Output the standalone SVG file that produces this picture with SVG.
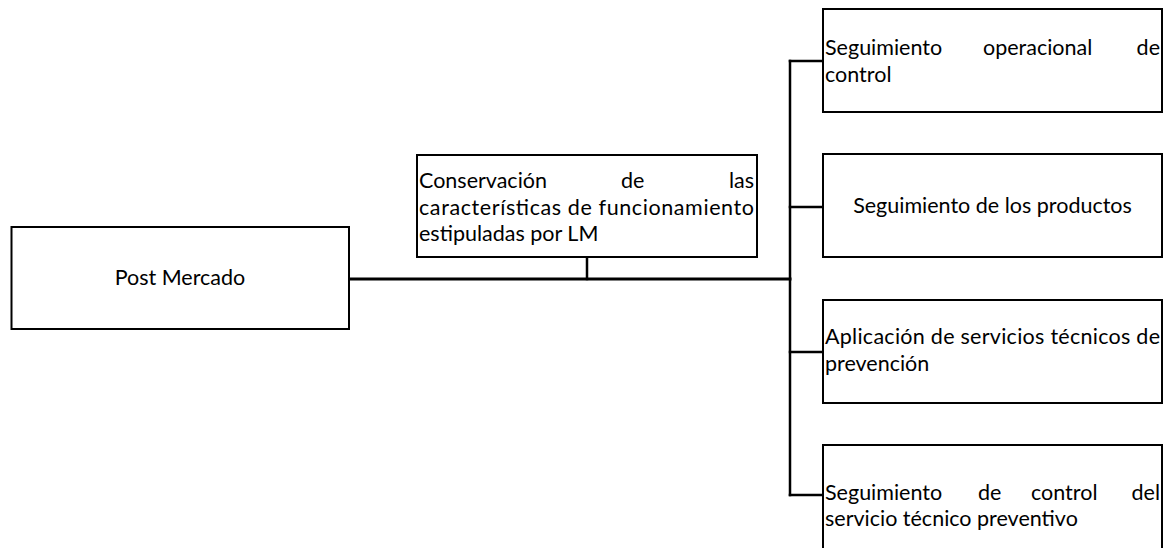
<svg xmlns="http://www.w3.org/2000/svg" width="1175" height="548" viewBox="0 0 1175 548">
  <style>
    .box { fill: #ffffff; stroke: #000000; stroke-width: 2; }
    .link { fill: none; stroke: #000000; stroke-width: 2.5; stroke-linecap: square; }
    .main { stroke-width: 3; }
    text { font-family: "Lato", "Open Sans", "Liberation Sans", sans-serif; font-size: 21.5px; fill: #000000; }
    .c { text-anchor: middle; }
    .e { text-anchor: end; }
  </style>
  <rect x="0" y="0" width="1175" height="548" fill="#ffffff"/>

  <!-- connectors -->
  <g id="connectors">
    <path class="link main" d="M349 279 H790"/>
    <path class="link" d="M587 257 V279"/>
    <path class="link" d="M790 61 V495"/>
    <path class="link" d="M790 61 H823"/>
    <path class="link" d="M790 207 H823"/>
    <path class="link" d="M790 352 H823"/>
    <path class="link" d="M790 495 H823"/>
  </g>

  <!-- root -->
  <g id="post-mercado">
    <rect class="box" x="11.5" y="227" width="337.5" height="102"/>
    <text class="c" x="180" y="285">Post Mercado</text>
  </g>

  <g id="conservacion">
    <rect class="box" x="417" y="155" width="340" height="102"/>
    <text x="419" y="188">Conservación</text>
    <text x="621" y="188">de</text>
    <text class="e" x="754" y="188">las</text>
    <text x="419" y="215" textLength="335" lengthAdjust="spacing">características de funcionamiento</text>
    <text x="419" y="241">estipuladas por LM</text>
  </g>

  <g id="seguimiento-operacional">
    <rect class="box" x="823" y="9" width="339" height="103"/>
    <text x="825" y="55">Seguimiento</text>
    <text x="983" y="55">operacional</text>
    <text class="e" x="1160" y="55">de</text>
    <text x="825" y="82">control</text>
  </g>

  <g id="seguimiento-productos">
    <rect class="box" x="823" y="154" width="339" height="103"/>
    <text class="c" x="992.5" y="213">Seguimiento de los productos</text>
  </g>

  <g id="aplicacion-servicios">
    <rect class="box" x="823" y="300" width="339" height="103"/>
    <text x="825" y="344" textLength="335" lengthAdjust="spacing">Aplicación de servicios técnicos de</text>
    <text x="825" y="371">prevención</text>
  </g>

  <g id="seguimiento-control">
    <rect class="box" x="823" y="445" width="339" height="110"/>
    <text x="825" y="500">Seguimiento</text>
    <text x="978" y="500">de</text>
    <text x="1031" y="500">control</text>
    <text class="e" x="1160" y="500">del</text>
    <text x="825" y="526">servicio técnico preventivo</text>
  </g>
</svg>
